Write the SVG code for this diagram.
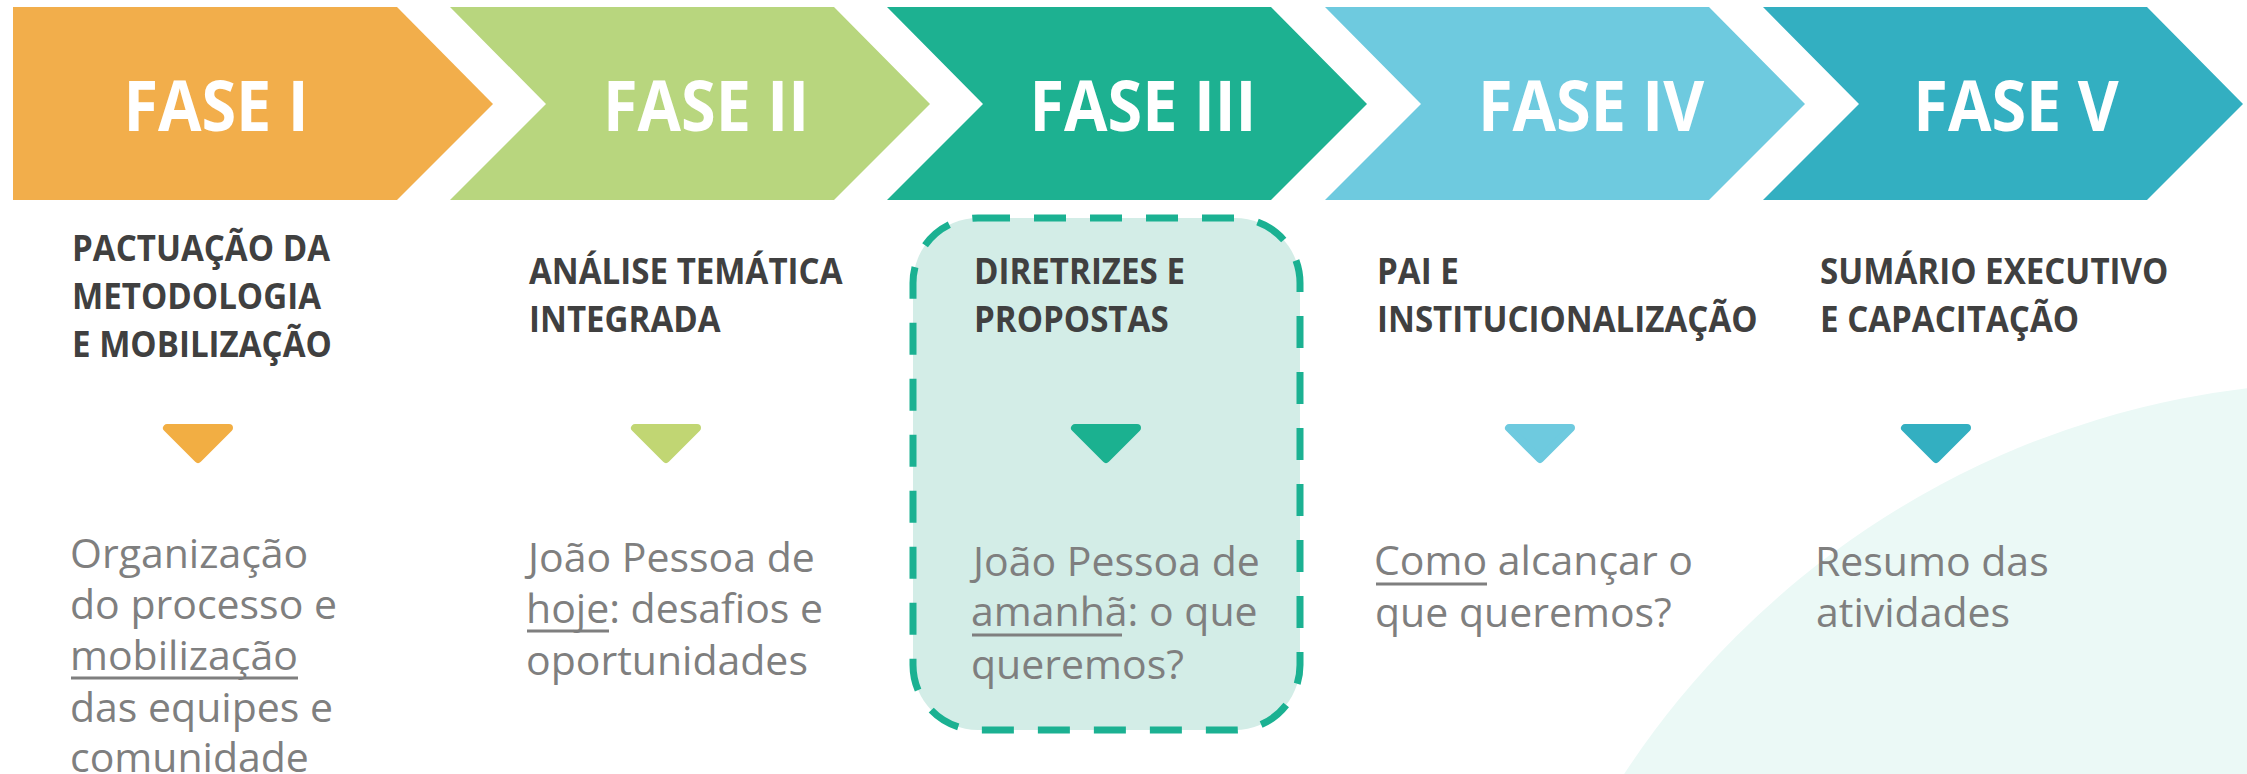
<svg xmlns="http://www.w3.org/2000/svg" width="2247" height="774" viewBox="0 0 2247 774">
<style>
.title{font-family:"Open Sans","Noto Sans",sans-serif;font-weight:700;font-size:70px;fill:#ffffff;text-anchor:middle}
.sub{font-family:"Open Sans","Noto Sans",sans-serif;font-weight:700;font-size:36px;fill:#404040}
.body{font-family:"Open Sans","Noto Sans",sans-serif;font-weight:400;font-size:41px;fill:#7f7f7f}
.ul{stroke:#7f7f7f;stroke-width:3}
.tri{stroke-width:8;stroke-linejoin:round}
</style>
<rect width="2247" height="774" fill="#ffffff"/>
<circle id="background-arc" cx="2350" cy="1250" r="868" fill="#ebf9f6"/>
<g id="phase1">
<polygon points="13,7 397,7 493,104 397,200 13,200" fill="#f2ae4b"/>
<text class="title" transform="translate(216,131) scale(0.9,1)">FASE I</text>
<text class="sub" transform="translate(72,261) scale(0.92,1)">PACTUAÇÃO DA</text>
<text class="sub" transform="translate(72,309) scale(0.92,1)">METODOLOGIA</text>
<text class="sub" transform="translate(72,357) scale(0.92,1)">E MOBILIZAÇÃO</text>
<text class="body" x="70" y="568">Organização</text>
<text class="body" x="70" y="619">do processo e</text>
<text class="body" x="70" y="670">mobilização</text>
<line class="ul" x1="71" y1="678" x2="298" y2="678"/>
<text class="body" x="70" y="722">das equipes e</text>
<text class="body" x="70" y="772">comunidade</text>
</g>
<g id="phase2">
<polygon points="450,7 834,7 930,104 834,200 450,200 546,104" fill="#b8d67e"/>
<text class="title" transform="translate(706,131) scale(0.9,1)">FASE II</text>
<text class="sub" transform="translate(529,284) scale(0.92,1)">ANÁLISE TEMÁTICA</text>
<text class="sub" transform="translate(529,332) scale(0.92,1)">INTEGRADA</text>
<text class="body" x="528" y="572">João Pessoa de</text>
<text class="body" x="526" y="623">hoje: desafios e</text>
<line class="ul" x1="527" y1="631" x2="609" y2="631"/>
<text class="body" x="526" y="675">oportunidades</text>
</g>
<g id="phase3">
<polygon points="887,7 1271,7 1367,104 1271,200 887,200 983,104" fill="#1db191"/>
<rect x="913" y="218" width="387" height="512" rx="65" ry="65" fill="#d3ede7" stroke="#1bb192" stroke-width="7" stroke-dasharray="32 24"/>
<text class="title" transform="translate(1143,131) scale(0.9,1)">FASE III</text>
<text class="sub" transform="translate(974,284) scale(0.92,1)">DIRETRIZES E</text>
<text class="sub" transform="translate(974,332) scale(0.92,1)">PROPOSTAS</text>
<text class="body" x="973" y="576">João Pessoa de</text>
<text class="body" x="971" y="626">amanhã: o que</text>
<line class="ul" x1="972" y1="635" x2="1122" y2="635"/>
<text class="body" x="971" y="679">queremos?</text>
</g>
<g id="phase4">
<polygon points="1325,7 1709,7 1805,104 1709,200 1325,200 1421,104" fill="#6ecadf"/>
<text class="title" transform="translate(1591,131) scale(0.9,1)">FASE IV</text>
<text class="sub" transform="translate(1377,284) scale(0.92,1)">PAI E</text>
<text class="sub" transform="translate(1377,332) scale(0.92,1)">INSTITUCIONALIZAÇÃO</text>
<text class="body" x="1374" y="575">Como alcançar o</text>
<line class="ul" x1="1376" y1="584" x2="1487" y2="584"/>
<text class="body" x="1375" y="627">que queremos?</text>
</g>
<g id="phase5">
<polygon points="1763,7 2147,7 2243,104 2147,200 1763,200 1859,104" fill="#33afc1"/>
<text class="title" transform="translate(2016,131) scale(0.9,1)">FASE V</text>
<text class="sub" transform="translate(1820,284) scale(0.92,1)">SUMÁRIO EXECUTIVO</text>
<text class="sub" transform="translate(1820,332) scale(0.92,1)">E CAPACITAÇÃO</text>
<text class="body" x="1815" y="576">Resumo das</text>
<text class="body" x="1816" y="627">atividades</text>
</g>
<g id="connectors">
<polygon class="tri" points="167,428 229,428 198,459" fill="#f2ae43" stroke="#f2ae43"/>
<polygon class="tri" points="635,428 697,428 666,459" fill="#c1d673" stroke="#c1d673"/>
<polygon class="tri" points="1075,428 1137,428 1106,459" fill="#1bb190" stroke="#1bb190"/>
<polygon class="tri" points="1509,428 1571,428 1540,459" fill="#6ecadf" stroke="#6ecadf"/>
<polygon class="tri" points="1905,428 1967,428 1936,459" fill="#33afc1" stroke="#33afc1"/>
</g>
</svg>
